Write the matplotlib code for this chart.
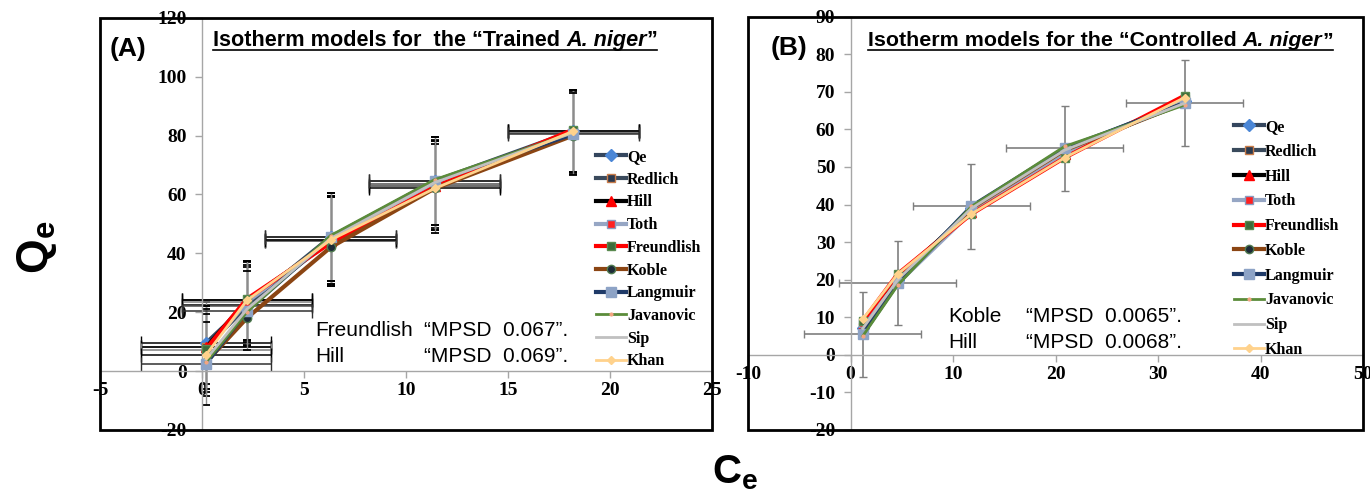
import matplotlib
matplotlib.use('Agg')
import matplotlib.pyplot as plt
from matplotlib.patches import Rectangle
from matplotlib.lines import Line2D

# data
model_names = ['Qe', 'Redlich', 'Hill', 'Toth', 'Freundlish', 'Koble',
               'Langmuir', 'Javanovic', 'Sip', 'Khan']

# (A) trained A. niger
ce_A = [0.2, 2.2, 6.3, 11.4, 18.2]
qe_A = [9.5, 22.5, 45.5, 64.5, 81.5]
redlich_A = [8.0, 22.0, 44.5, 63.5, 81.0]
hill_A = [8.0, 24.0, 44.0, 63.0, 81.5]
toth_A = [7.0, 23.5, 44.0, 63.0, 81.5]
freundlish_A = [7.5, 24.5, 43.5, 62.5, 82.0]
koble_A = [3.0, 18.0, 42.0, 62.0, 80.0]
langmuir_A = [2.5, 20.5, 45.5, 64.5, 80.5]
javanovic_A = [3.0, 20.0, 46.0, 65.0, 81.0]
sip_A = [4.0, 21.0, 45.0, 64.0, 81.0]
khan_A = [5.5, 24.0, 44.5, 62.0, 81.5]
xerr_A = [3.2, 3.2, 3.2, 3.2, 3.2]
yerr_A = [14.0, 13.5, 15.0, 15.0, 14.0]

# (B) controlled A. niger
ce_B = [1.2, 4.6, 11.8, 20.9, 32.6]
qe_B = [7.0, 20.0, 39.0, 54.5, 67.5]
redlich_B = [7.5, 20.5, 38.5, 54.0, 67.5]
hill_B = [8.0, 21.0, 38.0, 53.5, 68.0]
toth_B = [8.5, 19.0, 38.0, 53.5, 68.0]
freundlish_B = [9.0, 21.5, 37.5, 52.5, 69.0]
koble_B = [6.0, 19.5, 39.0, 54.5, 67.0]
langmuir_B = [5.5, 19.0, 39.5, 55.0, 67.0]
javanovic_B = [5.0, 18.5, 39.5, 55.5, 66.5]
sip_B = [7.0, 20.0, 39.0, 54.5, 67.0]
khan_B = [9.5, 21.5, 37.5, 52.5, 68.5]
xerr_B = [5.7, 5.7, 5.7, 5.7, 5.7]
yerr_B = [11.3, 11.2, 11.4, 11.3, 11.4]

series_A = [qe_A, redlich_A, hill_A, toth_A, freundlish_A, koble_A,
            langmuir_A, javanovic_A, sip_A, khan_A]
series_B = [qe_B, redlich_B, hill_B, toth_B, freundlish_B, koble_B,
            langmuir_B, javanovic_B, sip_B, khan_B]

# line colour, width, marker, face, edge, size
styles = [
    ('#34465E', 3.0, 'D', '#4A86D6', '#4A86D6', 6),
    ('#3A4A5C', 3.0, 's', '#2B3A4F', '#C87C4A', 6),
    ('#000000', 3.0, '^', '#FF0000', '#FF0000', 7),
    ('#96A6C4', 3.0, 's', '#FF2020', '#8A9BC0', 6),
    ('#FF0000', 3.0, 's', '#3E6B3A', '#5A8A50', 6),
    ('#8B4513', 3.0, 'o', '#1E2B38', '#4F7A4F', 6),
    ('#1F3A68', 3.0, 's', '#8DA3C6', '#8DA3C6', 7),
    ('#5B8C3A', 2.0, 'o', '#F4A582', '#F4A582', 2),
    ('#C0C0C0', 2.0, '', 'none', 'none', 0),
    ('#FFD28C', 2.0, 'D', '#FFD28C', '#FFD28C', 4),
]

serif = 'Liberation Serif'
sans = 'Liberation Sans'
plt.rcParams['mathtext.fontset'] = 'custom'
plt.rcParams['mathtext.bf'] = 'Liberation Sans:bold'
plt.rcParams['mathtext.rm'] = 'Liberation Sans'
plt.rcParams['axes.unicode_minus'] = False

fig = plt.figure(figsize=(13.7, 4.93), dpi=100)
axA = fig.add_axes([0.073, 0.128, 0.4467, 0.836])
axB = fig.add_axes([0.546, 0.128, 0.4489, 0.838])


def setup_axes(ax, xlim, ylim, xticks, yticks):
    ax.set_xlim(*xlim)
    ax.set_ylim(*ylim)
    ax.set_xticks(xticks)
    ax.set_yticks(yticks)
    for side in ['top', 'right']:
        ax.spines[side].set_visible(False)
    for side in ['left', 'bottom']:
        ax.spines[side].set_position(('data', 0))
        ax.spines[side].set_color('#A6A6A6')
        ax.spines[side].set_linewidth(1.0)
    ax.tick_params(direction='out', length=5, width=1, color='#A6A6A6')
    ax.tick_params(axis='y', pad=6)
    ax.tick_params(axis='x', pad=3)
    for lab in ax.get_xticklabels() + ax.get_yticklabels():
        lab.set_fontfamily(serif)
        lab.set_fontweight('bold')
        lab.set_fontsize(14)
    ax.add_patch(Rectangle((0, 0), 1, 1, transform=ax.transAxes, fill=False,
                           lw=2, ec='black', clip_on=False, zorder=10))


def draw_models(ax, x, series):
    handles = []
    for ys, (lc, lw, mk, mfc, mec, ms), name in zip(series, styles, model_names):
        h, = ax.plot(x, ys, color=lc, lw=lw, marker=mk if mk else None,
                     mfc=mfc, mec=mec, ms=ms, zorder=4, label=name)
        handles.append(h)
    return handles


def titled(x, y, parts, size):
    fig.canvas.draw()
    r = fig.canvas.get_renderer()
    cx = x
    for txt, style in parts:
        t = fig.text(cx, y, txt, fontsize=size, fontweight='bold', fontstyle=style,
                     family=sans, va='baseline', ha='left')
        bb = t.get_window_extent(renderer=r)
        cx += bb.width / fig.bbox.width
    fig.add_artist(Line2D([x, cx], [y - 0.009, y - 0.009],
                          transform=fig.transFigure, color='black', lw=1.2))


def black_caps(caps):
    for cap in caps:
        cap.set_markeredgecolor('black')
        cap.set_color('black')


# ---- panel A ----
setup_axes(axA, (-5, 25), (-20, 120), range(-5, 26, 5), range(-20, 121, 20))
ecol = ['#000000', '#505050', '#000000', '#808080', '#000000', '#303030']
for ys, c in zip([qe_A, redlich_A, hill_A, toth_A, khan_A, langmuir_A], ecol):
    axA.errorbar(ce_A, ys, xerr=xerr_A, fmt='none', ecolor=c, elinewidth=1.1,
                 capsize=5, zorder=2)
    _, caps, _ = axA.errorbar(ce_A, ys, yerr=yerr_A, fmt='none', ecolor='#8C8C8C',
                              elinewidth=1, capsize=3, capthick=1.3, zorder=2)
    black_caps(caps)
hA = draw_models(axA, ce_A, series_A)
axA.legend(handles=hA, loc='upper left', bbox_to_anchor=(588 / 1370, 1 - 141 / 493),
           bbox_transform=fig.transFigure, frameon=False, borderpad=0,
           prop={'family': serif, 'weight': 'bold', 'size': 11.5},
           handlelength=1.9, handletextpad=0.05, labelspacing=0.42)
axA.text(0.016, 0.925, '(A)', transform=axA.transAxes, fontsize=19,
         fontweight='bold', family=sans, va='center')
axA.text(315 / 1370, 1 - 336 / 493, 'Freundlish', transform=fig.transFigure,
         fontsize=15, family=sans)
axA.text(424 / 1370, 1 - 336 / 493, '\u201cMPSD  0.067\u201d.', transform=fig.transFigure,
         fontsize=15, family=sans)
axA.text(315 / 1370, 1 - 362 / 493, 'Hill', transform=fig.transFigure,
         fontsize=15, family=sans)
axA.text(424 / 1370, 1 - 362 / 493, '\u201cMPSD  0.069\u201d.', transform=fig.transFigure,
         fontsize=15, family=sans)

# ---- panel B ----
setup_axes(axB, (-10, 50), (-20, 90), range(-10, 51, 10), range(-20, 91, 10))
_, capsB, _ = axB.errorbar(ce_B, langmuir_B, xerr=xerr_B, yerr=yerr_B, fmt='none',
                           ecolor='#7F7F7F', elinewidth=1.2, capsize=3, zorder=2)
hB = draw_models(axB, ce_B, series_B)
axB.legend(handles=hB, loc='upper left', bbox_to_anchor=(1226 / 1370, 1 - 111 / 493),
           bbox_transform=fig.transFigure, frameon=False, borderpad=0,
           prop={'family': serif, 'weight': 'bold', 'size': 11.5},
           handlelength=1.9, handletextpad=0.05, labelspacing=0.55)
axB.text(0.037, 0.925, '(B)', transform=axB.transAxes, fontsize=19,
         fontweight='bold', family=sans, va='center')
axB.text(948 / 1370, 1 - 322 / 493, 'Koble', transform=fig.transFigure,
         fontsize=15, family=sans)
axB.text(1026 / 1370, 1 - 322 / 493, '\u201cMPSD  0.0065\u201d.', transform=fig.transFigure,
         fontsize=15, family=sans)
axB.text(948 / 1370, 1 - 348 / 493, 'Hill', transform=fig.transFigure,
         fontsize=15, family=sans)
axB.text(1026 / 1370, 1 - 348 / 493, '\u201cMPSD  0.0068\u201d.', transform=fig.transFigure,
         fontsize=15, family=sans)

titled(213 / 1370, 1 - 46 / 493,
       [('Isotherm models for  the \u201cTrained ', 'normal'), ('A. niger', 'italic'),
        ('\u201d', 'normal')], 15.6)
titled(868 / 1370, 1 - 46 / 493,
       [('Isotherm models for the \u201cControlled ', 'normal'), ('A. niger', 'italic'),
        ('\u201d', 'normal')], 15.4)

# axis titles
fig.text(37 / 1370, 1 - 247 / 493, r'$\mathbf{Q_e}$', fontsize=32, rotation=90,
         ha='center', va='center')
fig.text(735 / 1370, 1 - 452 / 493, r'$\mathbf{C_e}$', fontsize=29,
         ha='center', va='top')

fig.savefig('out.png', dpi=100)
